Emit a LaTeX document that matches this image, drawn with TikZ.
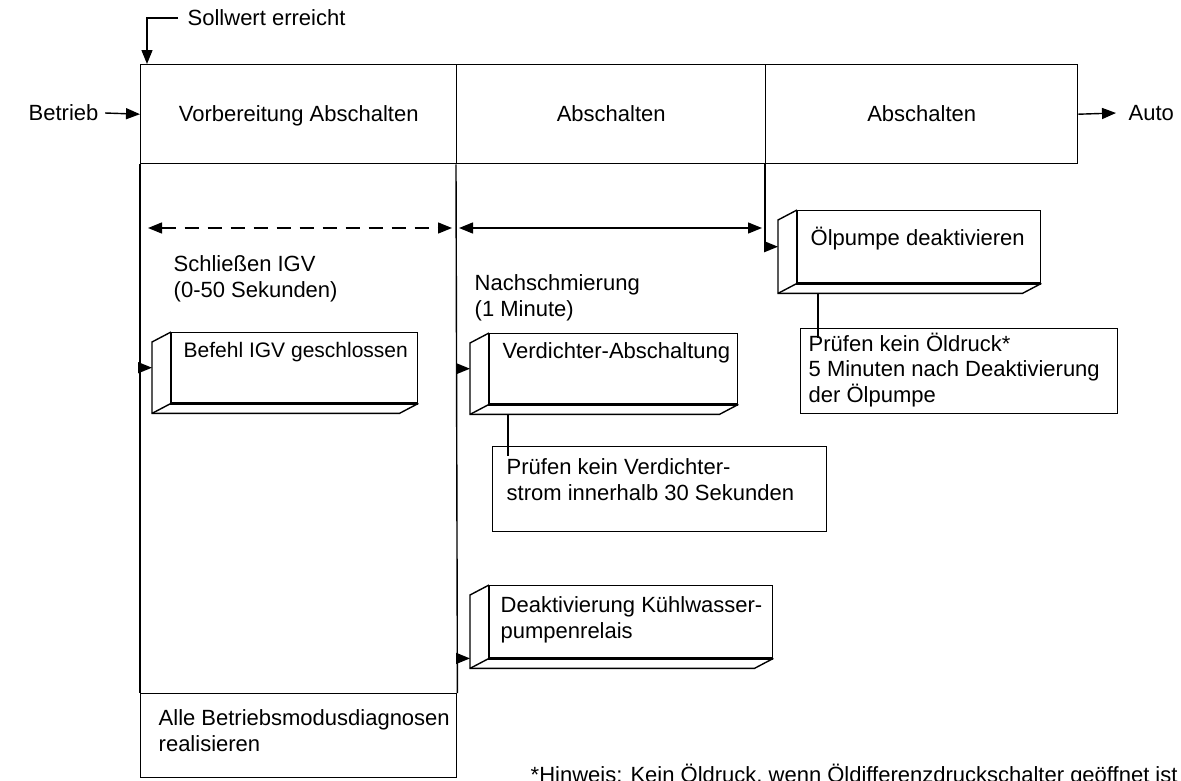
\documentclass[tikz,border=0pt]{standalone}
\usepackage{fontspec}
\setmainfont{Liberation Sans}
\usetikzlibrary{arrows.meta,calc}
\begin{document}
\begin{tikzpicture}[x=1pt,y=-1pt,line width=1.4pt,
  font=\fontsize{22}{25.5}\selectfont,
  hdr/.style={draw,minimum height=99pt,anchor=north west,inner sep=0pt,text height=16pt,text depth=2pt},
  box/.style={draw,fill=white,anchor=north west,inner sep=0pt},
  txt/.style={anchor=north west,align=left,inner sep=0pt},
  lbl/.style={inner sep=0pt},
  arr/.style={-{Triangle[length=14pt,width=11pt]}},
  dbl/.style={{Triangle[length=14pt,width=11pt]}-{Triangle[length=14pt,width=11pt]}}]
\useasboundingbox (0,0) rectangle (1181,780);

% header band
\node[hdr,minimum width=316pt] (h1) at (140,64) {Vorbereitung Abschalten};
\node[hdr,minimum width=309pt] (h2) at (456,64) {Abschalten};
\node[hdr,minimum width=312pt] (h3) at (765,64) {Abschalten};

% outside labels
\node[lbl,anchor=west] (soll) at (187,18) {Sollwert erreicht};
\node[lbl,anchor=west] (betr) at (28,113) {Betrieb};
\node[lbl,anchor=west] (auto) at (1128,113) {Auto};
\draw[arr] ([xshift=-9pt]soll.west) -| ([xshift=7pt]h1.north west);
\draw[arr] ([xshift=6pt]betr.east) -- (h1.west);
\draw[arr] (h3.east) -- ([xshift=-12pt]auto.west);

% bottom box of column 1
\node[box,minimum width=316pt,minimum height=84pt] (alle) at (140,693) {};
\node[txt] (alle-t) at (158,709) {Alle Betriebsmodusdiagnosen\\realisieren};

% column lines
\draw (h1.south west) -- (alle.north west);
\draw (h2.south west) -- (alle.north east);

% time spans
\coordinate (d1) at (148,228);
\coordinate (d2) at (452,228);
\coordinate (s1) at (459,228);
\coordinate (s2) at (762,228);
\draw[dbl,dash pattern=on 14pt off 9pt] (d1) -- (d2);
\draw[dbl] (s1) -- (s2);
\node[txt] (sch) at (173,255) {Schlie\ss en IGV\\(0-50 Sekunden)};
\node[txt] (nach) at (474,274) {Nachschmierung\\(1 Minute)};

% 3D boxes (front faces)
\node[box,minimum width=243pt,minimum height=72pt] (oel) at (797,210) {};
\node[box,minimum width=246pt,minimum height=70pt] (bef) at (171,332) {};
\node[box,minimum width=248pt,minimum height=70pt] (verd) at (489,333) {};
\node[box,minimum width=283pt,minimum height=72pt] (kuehl) at (489,585) {};
\foreach \n in {oel,bef,verd,kuehl}{
  \draw (\n.north west) -- ++(-19,10) -- ([shift={(-19,10)}]\n.south west)
        -- ([shift={(-19,10)}]\n.south east) -- (\n.south east);
  \draw (\n.south west) -- ++(-19,10);
  \draw[line width=2.2pt] (\n.north west) -- (\n.south west) -- (\n.south east);
}
\node[txt] (oel-t) at (810,226) {\"Olpumpe deaktivieren};
\node[txt,font=\fontsize{21}{25.5}\selectfont] (bef-t) at (183,342) {Befehl IGV geschlossen};
\node[txt] (verd-t) at (502,342) {Verdichter-Abschaltung};
\node[txt] (kuehl-t) at (500,596) {Deaktivierung K\"uhlwasser-\\pumpenrelais};

% check boxes
\node[box,minimum width=317pt,minimum height=85pt] (poel) at (800,328) {};
\node[txt] (poel-t) at (808,332) {Pr\"ufen kein \"Oldruck*\\5 Minuten nach Deaktivierung\\der \"Olpumpe};
\node[box,minimum width=334pt,minimum height=85pt] (pverd) at (492,446) {};
\node[txt] (pverd-t) at (506,458) {Pr\"ufen kein Verdichter-\\strom innerhalb 30 Sekunden};

% connectors to boxes
\draw[arr] (h1.south west |- bef.west) -- ([xshift=-19pt]bef.west);
\draw[arr] (h2.south west |- verd.west) -- ([xshift=-19pt]verd.west);
\draw[arr] (h2.south west |- kuehl.south west) -- ([xshift=-19pt]kuehl.south west);
\draw[arr] (h3.south west) |- ([xshift=-19pt]oel.west);
\draw ([shift={(21,10)}]oel.south west) -- ([shift={(21,10)}]oel.south west |- poel.north);
\draw ([shift={(19,10)}]verd.south west) -- ([shift={(19,10)}]verd.south west |- pverd.north);

% footnote
\node[anchor=base west,inner sep=0pt] (note) at (530,782) {*Hinweis: Kein \"Oldruck, wenn \"Oldifferenzdruckschalter ge\"offnet ist};
\end{tikzpicture}
\end{document}
